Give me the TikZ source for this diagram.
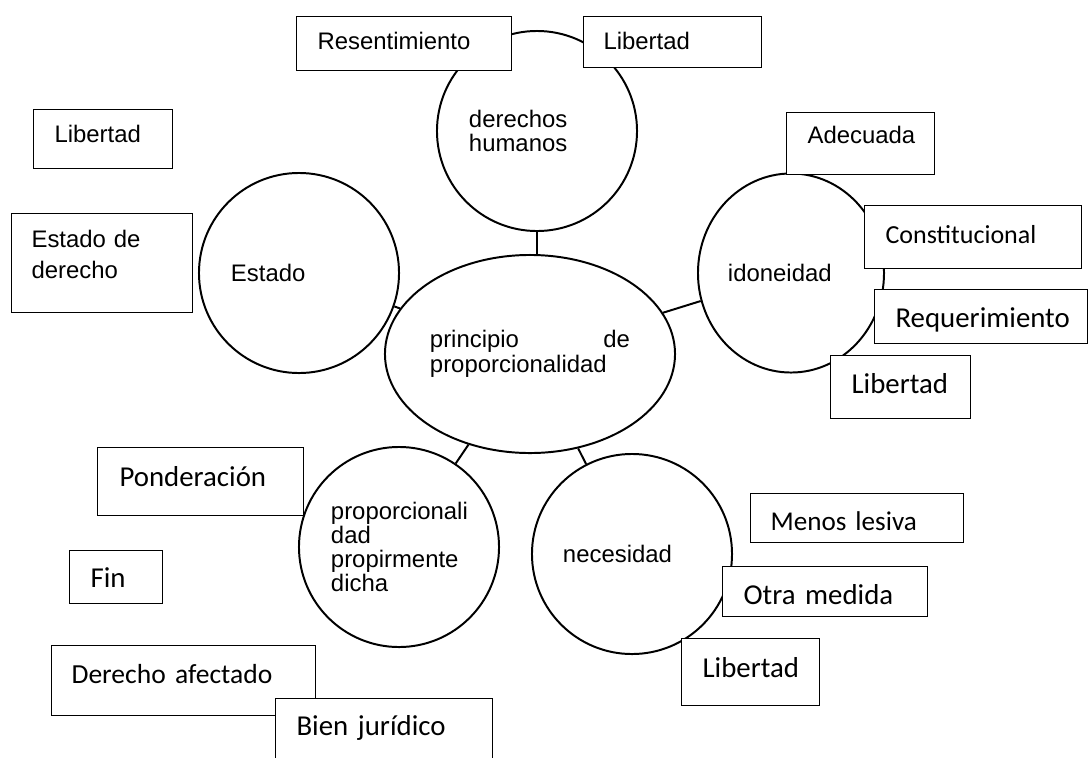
\documentclass[tikz,border=0pt]{standalone}
\usepackage{fontspec}
\setmainfont{Liberation Sans}
\newfontfamily\calibri{Carlito}
\usetikzlibrary{shapes.geometric}

% box: name, style, x1, y1, x2, y2, text x, baseline, text (pixel units)
\newcommand{\caja}[9]{%
  \pgfmathsetmacro{\cajapad}{(#7-#3)*0.025}%
  \pgfmathsetmacro{\cajatw}{(#5-#3)*0.025-2*\cajapad}%
  \pgfmathsetmacro{\cajath}{(#8-#4)*0.025}%
  \pgfmathsetmacro{\cajatd}{(#6-#8)*0.025}%
  \node[caja,#2,inner xsep=\cajapad cm,text width=\cajatw cm,
    text height=\cajath cm,text depth=\cajatd cm] (#1) at (#3,#4) {#9};}

\begin{document}
\begin{tikzpicture}[x=0.025cm,y=-0.025cm]
\tikzstyle{every node}+=[inner sep=0pt]
\tikzstyle{burbuja}=[draw,line width=1.4pt,fill=white,align=left,font=\fontsize{17}{17}\selectfont]
\tikzstyle{caja}=[draw,line width=0.8pt,fill=white,rectangle,anchor=north west,align=left]
\tikzstyle{arial}=[font=\fontsize{17}{17}\selectfont]
\tikzstyle{calibri}=[font=\calibri\fontsize{20.5}{24}\selectfont]
\tikzstyle{conector}=[line width=1.4pt]
\useasboundingbox (0,0) rectangle (1088,758);

\node[burbuja,ellipse,minimum width=7.25cm,minimum height=4.95cm,text width=5cm,
  font=\fontsize{17}{17.8}\selectfont] (ppal) at (530,354)
  {principio \hfill de\\proporcionalidad};
\node[burbuja,circle,minimum size=5cm,text width=3.4cm] (dh) at (537,131) {derechos\\humanos};
\node[burbuja,circle,minimum size=5cm,text width=3.4cm] (estado) at (299,273) {Estado};
\node[burbuja,ellipse,minimum width=4.65cm,minimum height=4.975cm,text width=3.15cm] (idon) at (791,273) {idoneidad};
\node[burbuja,circle,minimum size=5cm,text width=3.4cm] (ppd) at (399,547)
  {proporcionali\\dad\\propirmente\\dicha};
\node[burbuja,circle,minimum size=5cm,text width=3.45cm] (nec) at (632,554) {necesidad};

\draw[conector] (dh.south) -- (dh.south |- ppal.north);
\draw[conector] (ppal) -- (estado);
\draw[conector] (ppal) -- (idon);
\draw[conector] (ppal) -- (ppd);
\draw[conector] (ppal) -- (nec);

\caja{resent}{arial}{296}{16}{511}{70}{317}{49}{Resentimiento}
\caja{libdh}{arial}{583}{16}{761}{67}{603}{49}{Libertad}
\caja{libest}{arial}{33}{109}{172}{168}{54}{142}{Libertad}
\caja{estder}{font=\fontsize{17}{22}\selectfont}{11}{213}{192}{312}{31}{247}{Estado de\\derecho}
\caja{adec}{arial}{786}{112}{934}{174}{807}{143}{Adecuada}
\caja{const}{font=\calibri\fontsize{18.5}{22}\selectfont}{864}{205}{1081}{268}{885}{243}{Constitucional}
\caja{req}{calibri}{874}{289}{1087}{343}{895}{327}{Requerimiento}
\caja{libidon}{calibri}{830}{355}{970}{418}{851}{393}{Libertad}
\caja{pond}{calibri}{97}{447}{303}{515}{119}{486}{Ponderación}
\caja{fin}{calibri}{69}{550}{162}{603}{90}{587}{Fin}
\caja{derafec}{font=\calibri\fontsize{19.6}{24}\selectfont}{51}{645}{315}{715}{71}{683}{Derecho afectado}
\caja{bienjur}{calibri}{275}{698}{492}{760}{296}{735}{Bien jurídico}
\caja{menos}{font=\calibri\fontsize{19.3}{24}\selectfont}{750}{493}{963}{542}{770}{530}{Menos lesiva}
\caja{otra}{calibri}{722}{566}{927}{616}{743}{604}{Otra medida}
\caja{libnec}{calibri}{681}{638}{819}{705}{702}{677}{Libertad}
\end{tikzpicture}
\end{document}
